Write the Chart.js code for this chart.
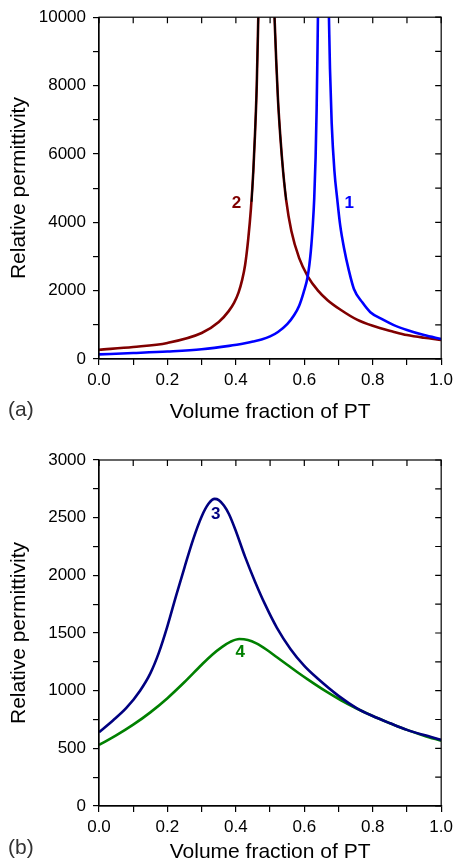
<!DOCTYPE html>
<html>
<head>
<meta charset="utf-8">
<script src="https://cdn.jsdelivr.net/npm/chart.js@4.4.1/dist/chart.umd.min.js"></script>
<style>
  body { margin: 0; background: #fff; }
  canvas { position: absolute; left: 0; }
  #chartA { top: 0; }
  #chartB { top: 432px; }
</style>
</head>
<body>
<canvas id="chartA" width="458" height="432"></canvas>
<canvas id="chartB" width="458" height="434"></canvas>
<script>
// panel (a): curve 1 (blue) and curve 2 (dark red), both run off the top near their poles
const c1X = [0.00, 0.10, 0.20, 0.30, 0.38, 0.43, 0.45, 0.475, 0.50, 0.523, 0.55, 0.57, 0.585, 0.598, 0.61, 0.619,
             0.625, 0.629, 0.633, 0.636, 0.6385, 0.6398,
             0.655,
             0.672, 0.675, 0.68, 0.688, 0.696, 0.705, 0.716, 0.73, 0.745, 0.77, 0.793, 0.83, 0.86, 0.90, 0.95, 1.00];
const c1Y = [135, 175, 220, 285, 385, 470, 510, 570, 660, 790, 1020, 1280, 1560, 1950, 2420, 3150,
             3950, 4700, 5900, 7300, 9000, 10000,
             null,
             10000, 8500, 6900, 5500, 4700, 3900, 3250, 2600, 2050, 1650, 1370, 1150, 1000, 850, 700, 585];

const c2X = [0.00, 0.10, 0.20, 0.30, 0.35, 0.379, 0.395, 0.408, 0.418, 0.427, 0.436, 0.444, 0.451, 0.456, 0.461, 0.4655,
             0.49,
             0.513, 0.518, 0.523, 0.53, 0.538, 0.547, 0.562, 0.585, 0.61, 0.64, 0.668, 0.706, 0.754, 0.80, 0.86, 0.90,
             0.95, 1.00];
const c2Y = [270, 350, 470, 760, 1080, 1400, 1650, 1950, 2300, 2750, 3500, 4400, 5500, 6600, 8000, 10000,
             null,
             10000, 8700, 7600, 6500, 5500, 4650, 3750, 2950, 2420, 2000, 1720, 1440, 1150, 970, 800, 700,
             620, 560];

// black overlay over curve 2 close to its pole
const c2bX = [0.446, 0.451, 0.456, 0.461, 0.4655, 0.49, 0.513, 0.518, 0.523, 0.53, 0.538, 0.547];
const c2bY = [4600, 5500, 6600, 8000, 10000, null, 10000, 8700, 7600, 6500, 5500, 4650];

// panel (b): curve 3 (navy) and curve 4 (green)
const c3X = [0.00, 0.04, 0.08, 0.12, 0.15, 0.175, 0.20, 0.225, 0.25, 0.275, 0.30, 0.32, 0.338, 0.35, 0.365, 0.38,
             0.398, 0.427, 0.456, 0.485, 0.52, 0.56, 0.60, 0.639, 0.70, 0.754, 0.80, 0.851, 0.90, 0.95, 1.00];
const c3Y = [640, 740, 850, 1000, 1150, 1330, 1560, 1820, 2070, 2310, 2510, 2620, 2663, 2652, 2605, 2530,
             2400, 2160, 1945, 1750, 1545, 1360, 1215, 1105, 955, 847, 780, 717, 660, 615, 575];

const c4X = [0.00, 0.05, 0.10, 0.15, 0.20, 0.25, 0.30, 0.33, 0.36, 0.385, 0.41, 0.435, 0.46, 0.49, 0.52, 0.55,
             0.58, 0.61, 0.66, 0.706, 0.75, 0.80, 0.85, 0.90, 0.95, 1.00];
const c4Y = [529, 612, 705, 812, 935, 1075, 1225, 1310, 1380, 1425, 1448, 1440, 1410, 1355, 1290, 1225,
             1160, 1098, 1000, 919, 850, 780, 718, 660, 610, 566];

const xTicks = [0.0, 0.2, 0.4, 0.6, 0.8, 1.0];
const yTicksA = [0, 2000, 4000, 6000, 8000, 10000];
const yTicksB = [0, 500, 1000, 1500, 2000, 2500, 3000];

const labelsA = [{ t: '1', x: 0.731, y: 4550, c: '#0000ff' }, { t: '2', x: 0.402, y: 4550, c: '#800000' }];
const labelsB = [{ t: '3', x: 0.341, y: 2532, c: '#000080' }, { t: '4', x: 0.413, y: 1336, c: '#008000' }];

const FONT = "'Liberation Sans', Arial, sans-serif";

function pts(xs, ys) {
    return xs.map((x, i) => ({ x: x, y: ys[i] }));
}

function line(xs, ys, color, width) {
    return {
        data: pts(xs, ys),
        borderColor: color,
        borderWidth: width,
        pointRadius: 0,
        fill: false,
        spanGaps: false,
        cubicInterpolationMode: 'monotone'
    };
}

// box round the plot with inward ticks on top and right, plus curve numbers and panel letter
function framePlugin(labels, letter, letterY) {
    return {
        id: 'frame',
        afterDraw(chart) {
            const { ctx, chartArea: a, scales: { x, y } } = chart;
            ctx.save();
            ctx.strokeStyle = '#000';
            ctx.lineWidth = 1.2;
            ctx.strokeRect(a.left, a.top, a.right - a.left, a.bottom - a.top);
            ctx.beginPath();
            x.ticks.forEach(t => {
                const px = x.getPixelForValue(t.value);
                ctx.moveTo(px, a.top);
                ctx.lineTo(px, a.top + 6);
            });
            y.ticks.forEach(t => {
                const py = y.getPixelForValue(t.value);
                ctx.moveTo(a.right, py);
                ctx.lineTo(a.right - 6, py);
            });
            ctx.stroke();

            ctx.font = 'bold 17px ' + FONT;
            ctx.textAlign = 'center';
            ctx.textBaseline = 'middle';
            labels.forEach(l => {
                ctx.fillStyle = l.c;
                ctx.fillText(l.t, x.getPixelForValue(l.x), y.getPixelForValue(l.y));
            });

            ctx.font = '21px ' + FONT;
            ctx.fillStyle = '#333';
            ctx.textAlign = 'left';
            ctx.fillText(letter, 8, letterY);
            ctx.restore();
        }
    };
}

function makeChart(id, datasets, yMax, yStep, yTicks, canvasH, plotTop, plotH, titlePad, labels, letter, letterY) {
    const ctx = document.getElementById(id).getContext('2d');
    return new Chart(ctx, {
        type: 'line',
        data: { datasets: datasets },
        options: {
            responsive: false,
            animation: false,
            layout: { padding: { top: plotTop, right: 13, left: 0, bottom: 0 } },
            plugins: { legend: { display: false }, tooltip: { enabled: false } },
            scales: {
                x: {
                    type: 'linear',
                    min: 0,
                    max: 1,
                    afterBuildTicks: s => {
                        s.ticks = [];
                        for (let i = 0; i <= 10; i++) s.ticks.push({ value: i / 10 });
                    },
                    afterFit: s => { s.height = canvasH - plotTop - plotH; },
                    grid: { drawOnChartArea: false, drawTicks: true, tickLength: 6, color: '#000', lineWidth: 1.2 },
                    border: { display: true, color: '#000', width: 1.2 },
                    ticks: {
                        autoSkip: false,
                        maxRotation: 0,
                        padding: 5,
                        color: '#000',
                        font: { family: FONT, size: 17 },
                        callback: v => {
                            const hit = xTicks.find(t => Math.abs(t - v) < 1e-6);
                            return hit === undefined ? '' : hit.toFixed(1);
                        }
                    },
                    title: {
                        display: true,
                        text: 'Volume fraction of PT',
                        color: '#000',
                        font: { family: FONT, size: 21 },
                        padding: { top: 0, bottom: titlePad }
                    }
                },
                y: {
                    min: 0,
                    max: yMax,
                    afterBuildTicks: s => {
                        s.ticks = [];
                        for (let v = 0; v <= yMax; v += yStep) s.ticks.push({ value: v });
                    },
                    afterFit: s => { s.width = 99; },
                    grid: { drawOnChartArea: false, drawTicks: true, tickLength: 6, color: '#000', lineWidth: 1.2 },
                    border: { display: true, color: '#000', width: 1.2 },
                    ticks: {
                        autoSkip: false,
                        padding: 7,
                        color: '#000',
                        font: { family: FONT, size: 17 },
                        callback: v => (yTicks.includes(v) ? String(v) : '')
                    },
                    title: {
                        display: true,
                        text: 'Relative permittivity',
                        color: '#000',
                        font: { family: FONT, size: 21 },
                        padding: { top: 7, bottom: 0 }
                    }
                }
            }
        },
        plugins: [framePlugin(labels, letter, letterY)]
    });
}

// first dataset is drawn on top
makeChart('chartA', [
    line(c2bX, c2bY, '#000000', 1.8),
    line(c1X, c1Y, '#0000ff', 2.6),
    line(c2X, c2Y, '#800000', 2.6)
], 10000, 1000, yTicksA, 432, 14, 345, 7, labelsA, '(a)', 410);

makeChart('chartB', [
    line(c3X, c3Y, '#000080', 2.6),
    line(c4X, c4Y, '#008000', 2.6)
], 3000, 250, yTicksB, 434, 28, 346, 1, labelsB, '(b)', 416);
</script>
</body>
</html>
